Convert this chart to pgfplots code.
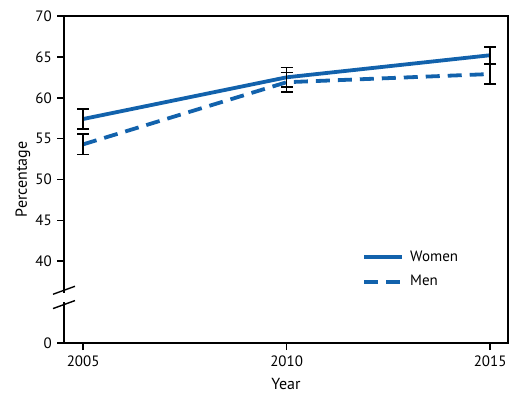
\documentclass[border=0pt]{standalone}
\usepackage{pgfplots}
\pgfplotsset{compat=1.18}
\usepackage{fontspec}
\setmainfont{PT Sans}
\definecolor{cdcblue}{RGB}{18,98,172}
\begin{document}
\fontsize{15bp}{18bp}\selectfont
\begin{tikzpicture}[x=1bp,y=1bp]
\useasboundingbox (0,0) rectangle (517,399);
\begin{axis}[
  at={(64bp,56bp)}, anchor=south west,
  scale only axis, width=444bp, height=327bp,
  xmin=2004.53, xmax=2015.44,
  ymin=30, ymax=70,
  xtick pos=lower, ytick pos=left,
  axis line style={line width=1.6bp, black},
  xtick={2005,2010,2015},
  xticklabels={2005,2010,2015},
  ytick={30,40,45,50,55,60,65,70},
  yticklabels={0,40,45,50,55,60,65,70},
  tick align=outside,
  major tick length=7bp,
  tick style={line width=1.6bp, black},
  /pgf/number format/assume math mode=true,
  ticklabel style={font=\fontsize{15bp}{18bp}\selectfont},
  xticklabel style={yshift=-1bp},
  xlabel={Year}, ylabel={Percentage},
  label style={font=\fontsize{16bp}{19bp}\selectfont},
  xlabel style={yshift=-1bp},
  ylabel style={yshift=-5bp},
  clip=false,
  legend style={at={(rel axis cs:0.665,0.295)}, anchor=north west, draw=none, fill=none,
    font=\fontsize{15bp}{18bp}\selectfont, row sep=8bp},
  legend cell align=left,
  legend image code/.code={\draw[#1] (0bp,0bp) -- (38bp,0bp);},
]
\addplot[cdcblue, line width=3.8bp] coordinates {(2005,57.4) (2010,62.5) (2015,65.2)};
\addlegendentry{\hspace{4bp}Women}
\addplot[cdcblue, line width=3.8bp, dash pattern=on 14bp off 8bp] coordinates {(2005,54.3) (2010,61.9) (2015,62.9)};
\addlegendentry{\hspace{4bp}Men}
\addplot[draw=none, forget plot, error bars/.cd, y dir=both, y explicit,
  error bar style={black, line width=1.7bp},
  error mark options={rotate=90, mark size=6bp, black, line width=1.7bp}]
  coordinates {(2005,57.4) +- (0,1.2) (2010,62.5) +- (0,1.2) (2015,65.2) +- (0,1.05)};
\addplot[draw=none, forget plot, error bars/.cd, y dir=both, y explicit,
  error bar style={black, line width=1.7bp},
  error mark options={rotate=90, mark size=6bp, black, line width=1.7bp}]
  coordinates {(2005,54.3) +- (0,1.25) (2010,61.9) +- (0,1.2) (2015,62.9) +- (0,1.25)};
% axis break
\draw[white, line width=4bp] (axis cs:2004.53,35.0) -- (axis cs:2004.53,36.1);
\draw[black, line width=1.4bp] ([xshift=-11bp,yshift=-4bp]axis cs:2004.53,36.45) -- ([xshift=11bp,yshift=4bp]axis cs:2004.53,36.45);
\draw[black, line width=1.4bp] ([xshift=-11bp,yshift=-4bp]axis cs:2004.53,34.7) -- ([xshift=11bp,yshift=4bp]axis cs:2004.53,34.7);
\end{axis}
\end{tikzpicture}
\end{document}
